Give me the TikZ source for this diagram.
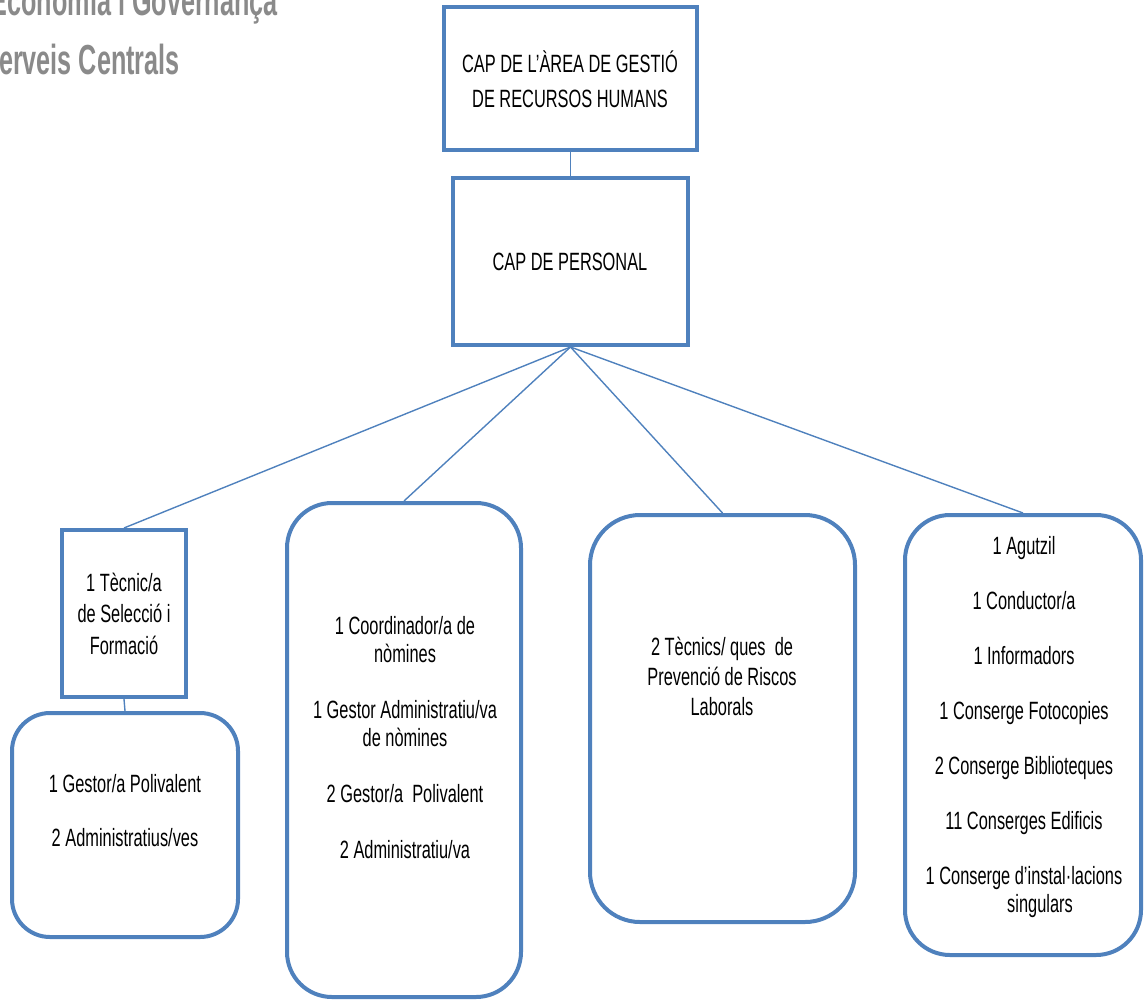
\documentclass[tikz,border=0pt]{standalone}
\usepackage{fontspec}
\setmainfont[FakeStretch=0.655]{Liberation Sans}
\newfontfamily\hdrfont[FakeStretch=0.6]{Liberation Sans}
\definecolor{ofblue}{HTML}{4F81BD}
\definecolor{hdrgrey}{HTML}{8A8A8A}
\begin{document}
\begin{tikzpicture}[x=1pt,y=-1pt,
  box/.style={draw=ofblue, line width=4pt, rectangle, inner sep=0pt, fill=white},
  rbox/.style={box, rounded corners=#1},
  txt/.style={align=center, inner sep=0pt, font=\fontsize{25}{28}\selectfont},
  hdr/.style={inner sep=0pt, text=hdrgrey, font=\hdrfont\bfseries\fontsize{42}{48}\selectfont},
  link/.style={draw=ofblue, line width=1.4pt}]
\useasboundingbox (0,0) rectangle (1145,999);
\clip (0,0) rectangle (1145,999);
% header
\node[hdr, anchor=base east] (h1) at (278,15) {Economia i Governança};
\node[hdr, anchor=base east] (h2) at (180,74) {Serveis Centrals};
% boxes
\node[box, minimum width=253pt, minimum height=143pt] (area) at (570.5,78.5) {};
\node[box, minimum width=235pt, minimum height=167pt] (pers) at (570.5,261.5) {};
\node[box, minimum width=124pt, minimum height=167pt] (tec) at (124,613.5) {};
\node[rbox=38pt, minimum width=226pt, minimum height=224pt] (gest) at (125,825) {};
\node[rbox=45pt, minimum width=234pt, minimum height=494pt] (coord) at (404,750) {};
\node[rbox=50pt, minimum width=265pt, minimum height=407pt] (prev) at (722.5,718.5) {};
\node[rbox=45pt, minimum width=236pt, minimum height=440pt] (agut) at (1023,735) {};
% connectors
\draw[link] (area.south) -- (pers.north);
\draw[link] (pers.south) -- (tec.north);
\draw[link] (pers.south) -- (coord.north);
\draw[link] (pers.south) -- (prev.north);
\draw[link] (pers.south) -- (agut.north);
\draw[link] (tec.south) -- (gest.north);
% texts
\node[txt] (tarea) at (570,79.5) {CAP DE L’ÀREA DE GESTIÓ\\[7pt]DE RECURSOS HUMANS};
\node[txt] (tpers) at (570,262) {CAP DE PERSONAL};
\node[txt] (ttec) at (124,613.5) {1 Tècnic/a\\[3.5pt]de Selecció i\\[3.5pt]Formació};
\node[txt] (tgest) at (125,811) {1 Gestor/a Polivalent\\[26pt]2 Administratius/ves};
\node[txt] (tcoord) at (405,738) {1 Coordinador/a de\\nòmines\\[28pt]1 Gestor Administratiu/va\\de nòmines\\[28pt]2 Gestor/a\ \ Polivalent\\[28pt]2 Administratiu/va};
\node[txt] (tprev) at (722,676) {2 Tècnics/ ques\ \ de\\[2pt]Prevenció de Riscos\\[2pt]Laborals};
\node[txt] (tagut) at (1024,727) {1 Agutzil\\[27pt]1 Conductor/a\\[27pt]1 Informadors\\[27pt]1 Conserge Fotocopies\\[27pt]2 Conserge Biblioteques\\[27pt]11 Conserges Edificis\\[27pt]1 Conserge d’instal·lacions\\\hspace*{32pt}singulars};
\end{tikzpicture}
\end{document}
